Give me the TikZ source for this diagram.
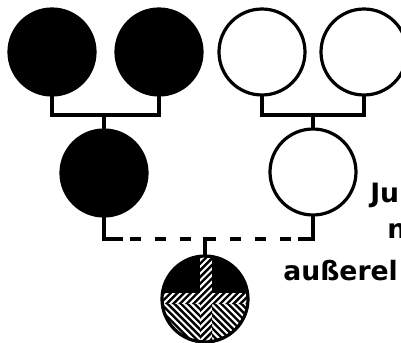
\documentclass[tikz,border=0pt]{standalone}
\usepackage{fontspec}
\newfontfamily\labfont{DejaVu Sans}
\begin{document}
\begin{tikzpicture}[x=0.75pt,y=-0.75pt,
  person/.style={circle, draw=black, line width=2.4pt, minimum size=64.5pt, inner sep=0pt},
  conn/.style={line width=2.4pt, line cap=rect},
  dashconn/.style={line width=2.3pt, dash pattern=on 8.25pt off 10.5pt, dash phase=12pt},
  hatch/.style={line width=1.8pt},
  label/.style={anchor=base west, inner sep=0pt, font=\labfont\bfseries\fontsize{20}{22}\selectfont}]
\useasboundingbox (0,0) rectangle (401,343);
% parents
\node[person, fill=black] (a) at (52,52) {};
\node[person, fill=black] (b) at (159,52) {};
\node[person] (c) at (262,52) {};
\node[person] (d) at (364,52) {};
% children
\node[person, fill=black] (f) at (104,173) {};
\node[person] (m) at (313,172) {};
% connectors
\coordinate (j1) at (104,115);
\coordinate (j2) at (313,115);
\draw[conn] (a.south) |- (j1) -| (b.south);
\draw[conn] (j1) -- (f.north);
\draw[conn] (c.south) |- (j2) -| (d.south);
\draw[conn] (j2) -- (m.north);
\coordinate (kc) at (205,299);
\coordinate (j3) at (205,239);
\coordinate (l) at (f.south |- j3);
\coordinate (r) at (m.south |- j3);
\path (l) ++(17,0) coordinate (l2);
\path (r) ++(-13,0) coordinate (r2);
\draw[conn] (f.south) -- (l) -- (l2);
\draw[conn] (m.south) -- (r) -- (r2);
\draw[dashconn] (l2) -- (r2);
% hatched child
\begin{scope}
  \clip (kc) circle[radius=44];
  \fill[white] (150,250) rectangle (260,350);
  \fill[black] (150,250) rectangle (260,294);
  \begin{scope}
    \clip (150,294) rectangle (260,350);
    \foreach \i in {-120,-113.3,...,120}
      \draw[hatch] (150+\i,280) -- ++(80,80);
  \end{scope}
  \begin{scope}
    \clip (150,293) rectangle (260,304) (200,250) rectangle (212,350);
    \fill[white] (150,293) rectangle (260,304);
    \fill[white] (200,250) rectangle (212,350);
    \foreach \i in {-120,-113.3,...,120}
      \draw[hatch] (150+\i,360) -- ++(110,-110);
  \end{scope}
\end{scope}
\node[person] (k) at (kc) {};
\draw[conn] (j3) -- (k.north);
% text
\node[label] (t1) at (370,202) {Ju};
\node[label] (t2) at (387,238) {n};
\node[label] (t3) at (283,280) {außerel};
\end{tikzpicture}
\end{document}
